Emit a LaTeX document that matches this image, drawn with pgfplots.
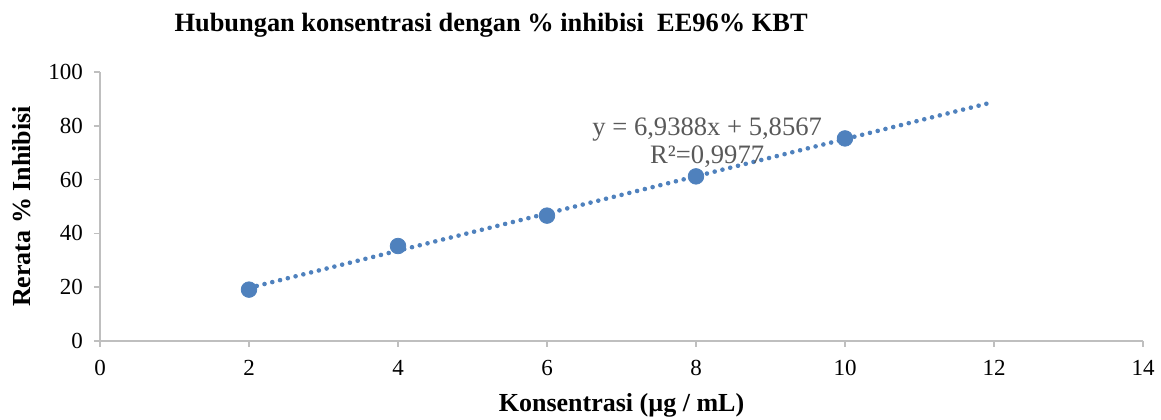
\documentclass[border=0pt]{standalone}
\usepackage{pgfplots}
\pgfplotsset{compat=1.18}
\usepackage{fontspec}
\setmainfont{Liberation Serif}
\definecolor{ser}{HTML}{4F81BD}
\definecolor{axg}{HTML}{BFBFBF}
\definecolor{eqg}{HTML}{595959}
\begin{document}
\begin{tikzpicture}
\begin{axis}[
  scale only axis,
  width=521.5pt, height=134.5pt,
  xmin=0, xmax=14, ymin=0, ymax=100,
  xtick={0,2,...,14}, ytick={0,20,...,100},
  axis x line*=bottom, axis y line*=left,
  axis line style={axg, line width=0.8pt, -},
  tick style={axg, line width=0.8pt},
  tick align=outside, major tick length=3pt,
  ticklabel style={font=\fontsize{11.5}{13}\selectfont, text=black},
  /pgf/number format/assume math mode=true,
  xticklabel style={yshift=-3pt},
  yticklabel style={xshift=-2pt},
  xlabel={\textbf{Konsentrasi (µg / mL)}},
  ylabel={\textbf{Rerata \% Inhibisi}},
  label style={font=\fontsize{13}{15}\selectfont},
  xlabel style={at={(rel axis cs:0.5,0)}, anchor=center, yshift=-32pt},
  ylabel style={at={(rel axis cs:0,0.5)}, anchor=center, rotate=0, yshift=39pt},
  clip=false,
]
\addplot[ser, line width=2.3pt, line cap=round, dash pattern=on 0pt off 4pt] coordinates {(2,19.7343) (12,88.9)};
\addplot[only marks, mark=*, mark size=3.9pt, mark options={fill=ser, draw=ser}] coordinates {
(2,19.1) (4,35.3) (6,46.6) (8,61.2) (10,75.3)};
\node[font=\fontsize{13.3}{15}\selectfont, text=eqg, anchor=center] at (axis cs:8.15,78.5) {y = 6,9388x + 5,8567};
\node[font=\fontsize{13.3}{15}\selectfont, text=eqg, anchor=center] at (axis cs:8.15,68.6) {R²=0,9977};
\node[font=\bfseries\fontsize{13.2}{15}\selectfont, anchor=center] at (rel axis cs:0.375,1) [yshift=23.5pt] {Hubungan konsentrasi dengan \% inhibisi\ \ EE96\% KBT};
\coordinate (sw) at (rel axis cs:0,0);
\coordinate (ne) at (rel axis cs:1,1);
\end{axis}
\pgfresetboundingbox
\path ([shift={(-50pt,-39.5pt)}]sw) rectangle ([shift={(9pt,36pt)}]ne);
\end{tikzpicture}
\end{document}
